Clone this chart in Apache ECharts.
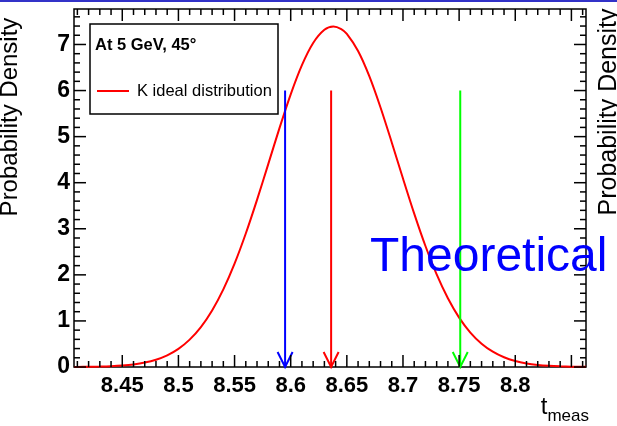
<!DOCTYPE html>
<html><head><meta charset="utf-8">
<script src="https://cdn.jsdelivr.net/npm/echarts@6/dist/echarts.min.js"></script>
<style>html,body{margin:0;padding:0;background:#fff}#c{width:617px;height:426px}</style>
</head><body><div id="c"></div>
<script>
// ---- data ----
const xRange = [8.407, 8.863];
const yRange = [0, 7.77];
const curveX = [8.407, 8.41, 8.42, 8.43, 8.44, 8.45, 8.46, 8.47, 8.48, 8.49, 8.50, 8.51, 8.52, 8.53, 8.54, 8.55, 8.56, 8.57, 8.58, 8.59, 8.60, 8.61, 8.62, 8.63, 8.638, 8.645, 8.65, 8.66, 8.67, 8.68, 8.69, 8.70, 8.71, 8.72, 8.73, 8.74, 8.75, 8.76, 8.77, 8.78, 8.79, 8.80, 8.81, 8.82, 8.83, 8.84, 8.85, 8.86, 8.863];
const curveY = [0.0020, 0.0025, 0.0049, 0.0095, 0.0177, 0.0321, 0.0564, 0.0959, 0.1585, 0.254, 0.394, 0.594, 0.867, 1.228, 1.686, 2.244, 2.898, 3.628, 4.404, 5.184, 5.917, 6.550, 7.031, 7.318, 7.39, 7.334, 7.228, 6.859, 6.313, 5.633, 4.874, 4.090, 3.328, 2.626, 2.009, 1.491, 1.072, 0.748, 0.506, 0.332, 0.211, 0.130, 0.0779, 0.0452, 0.0254, 0.0139, 0.0073, 0.0038, 0.0031];
const arrowX = [8.595, 8.636, 8.751];
const arrowTopY = [6, 6, 6];
const xMajorTicks = [8.45, 8.5, 8.55, 8.6, 8.65, 8.7, 8.75, 8.8, 8.85];
const xTickLabels = ['8.45', '8.5', '8.55', '8.6', '8.65', '8.7', '8.75', '8.8', ''];
const yMajorTicks = [0, 1, 2, 3, 4, 5, 6, 7];
const seriesName = 'K ideal distribution';
const boxTitle = 'At 5 GeV, 45\u00b0';
const bigLabel = 'Theoretical';
const yTitle = 'Probability Density';

// ---- styles ----
const arrowColors = ['#0000ff', '#ff0000', '#00ff00'];
const FONT = "'Liberation Sans', Arial, Helvetica, sans-serif";

// minor tick positions (axis decoration)
const xMinorTicks = [];
for (let i = 840; i <= 887; i++) { const v = i / 100; if (v > xRange[0] && v < xRange[1] && i % 5 !== 0) xMinorTicks.push(v); }
const yMinorTicks = [];
for (let i = 0; i <= 38; i++) { const v = i / 5; if (v < yRange[1] && i % 5 !== 0) yMinorTicks.push(v); }

const tickData = [];
xMajorTicks.forEach(v => tickData.push([v, 0, 0]));
xMinorTicks.forEach(v => tickData.push([v, 0, 1]));
yMajorTicks.forEach(v => tickData.push([xRange[0], v, 2]));
yMinorTicks.forEach(v => tickData.push([xRange[0], v, 3]));

function xLabel(val) {
  for (let i = 0; i < xMajorTicks.length; i++) {
    if (Math.abs(xMajorTicks[i] - val) < 1e-6) return xTickLabels[i];
  }
  return '';
}

const chart = echarts.init(document.getElementById('c'), null, { renderer: 'canvas' });
const option = {
  backgroundColor: '#fff',
  animation: false,
  textStyle: { fontFamily: FONT },
  grid: { left: 74, right: 31, top: 9, bottom: 59, show: true, borderColor: '#000', borderWidth: 1.5, containLabel: false },
  xAxis: {
    type: 'value', min: xRange[0], max: xRange[1], splitNumber: 9,
    axisLine: { show: false }, axisTick: { show: false }, splitLine: { show: false },
    axisLabel: { showMinLabel: false, showMaxLabel: false, formatter: xLabel, color: '#000', fontSize: 22, fontWeight: 'bold', fontFamily: FONT, margin: 8 }
  },
  yAxis: {
    type: 'value', min: yRange[0], max: yRange[1], interval: 1,
    axisLine: { show: false }, axisTick: { show: false }, splitLine: { show: false },
    axisLabel: { showMaxLabel: false, color: '#000', fontSize: 23, fontWeight: 'bold', fontFamily: FONT, margin: 4, padding: [4, 0, 0, 0] }
  },
  legend: {
    data: [seriesName], left: 97, top: 82, padding: 0, icon: 'rect', itemWidth: 32, itemHeight: 2,
    textStyle: { fontSize: 16.5, color: '#000', fontFamily: FONT, padding: [0, 0, 0, 3], lineHeight: 18 },
    selectedMode: false, z: 20
  },
  series: [
    {
      name: seriesName, type: 'line', smooth: 0.3, showSymbol: false, symbol: 'none',
      data: curveX.map((x, i) => [x, curveY[i]]),
      lineStyle: { color: '#ff0000', width: 2 }, itemStyle: { color: '#ff0000' }, z: 3
    },
    {
      name: 'arrows', type: 'custom', clip: false, z: 4,
      data: arrowX.map((x, i) => [x, arrowTopY[i], i]),
      renderItem: function (params, api) {
        const x = api.value(0), yt = api.value(1), ci = api.value(2);
        const pt = api.coord([x, yt]);
        const pb = api.coord([x, 0]);
        const col = arrowColors[ci];
        const st = { stroke: col, lineWidth: 2, fill: null };
        return { type: 'group', children: [
          { type: 'line', shape: { x1: pt[0], y1: pt[1], x2: pb[0], y2: pb[1] }, style: st },
          { type: 'polyline', shape: { points: [[pb[0] - 7.5, pb[1] - 15], [pb[0], pb[1]], [pb[0] + 7.5, pb[1] - 15]] }, style: st }
        ] };
      }
    },
    {
      name: 'ticks', type: 'custom', clip: false, z: 5, silent: true,
      data: tickData,
      renderItem: function (params, api) {
        const v0 = api.value(0), v1 = api.value(1), k = api.value(2);
        const len = (k === 0 || k === 2) ? 12 : 6;
        const st = { stroke: '#000', lineWidth: 1.5 };
        if (k < 2) {
          const pb = api.coord([v0, yRange[0]]), pt = api.coord([v0, yRange[1]]);
          return { type: 'group', children: [
            { type: 'line', shape: { x1: pb[0], y1: pb[1], x2: pb[0], y2: pb[1] - len }, style: st },
            { type: 'line', shape: { x1: pt[0], y1: pt[1], x2: pt[0], y2: pt[1] + len }, style: st }
          ] };
        } else {
          const pl = api.coord([xRange[0], v1]), pr = api.coord([xRange[1], v1]);
          return { type: 'group', children: [
            { type: 'line', shape: { x1: pl[0], y1: pl[1], x2: pl[0] + len, y2: pl[1] }, style: st },
            { type: 'line', shape: { x1: pr[0], y1: pr[1], x2: pr[0] - len, y2: pr[1] }, style: st }
          ] };
        }
      }
    }
  ],
  graphic: [
    { type: 'rect', shape: { x: 0, y: 0, width: 617, height: 2 }, style: { fill: '#3232c8' }, z: 50 },
    { type: 'rect', shape: { x: 90, y: 24, width: 188, height: 90 }, style: { fill: '#fff', stroke: '#000', lineWidth: 1.5 }, z: 10 },
    { type: 'text', x: 95, y: 45, style: { text: boxTitle, font: 'bold 16.5px ' + FONT, fill: '#000', align: 'left', verticalAlign: 'middle' }, z: 11 },
    { type: 'text', x: 370, y: 258, style: { text: bigLabel, font: '48px ' + FONT, fill: '#0000ff', align: 'left', verticalAlign: 'middle' }, z: 12 },
    { type: 'text', x: 10, y: 117, rotation: Math.PI / 2, style: { text: yTitle, font: '24px ' + FONT, fill: '#000', align: 'center', verticalAlign: 'middle' }, z: 11 },
    { type: 'text', x: 609, y: 112, rotation: Math.PI / 2, style: { text: yTitle, font: '25px ' + FONT, fill: '#000', align: 'center', verticalAlign: 'middle' }, z: 11 },
    { type: 'text', x: 589, y: 410, style: { text: '{t|t}{s|meas}', align: 'right', verticalAlign: 'middle',
        rich: { t: { fontSize: 24, fontFamily: FONT, fill: '#000', color: '#000', verticalAlign: 'bottom', padding: [0, 0, 6, 0] },
                s: { fontSize: 17, fontFamily: FONT, fill: '#000', color: '#000', verticalAlign: 'bottom' } } }, z: 11 }
  ]
};
chart.setOption(option);
</script></body></html>
